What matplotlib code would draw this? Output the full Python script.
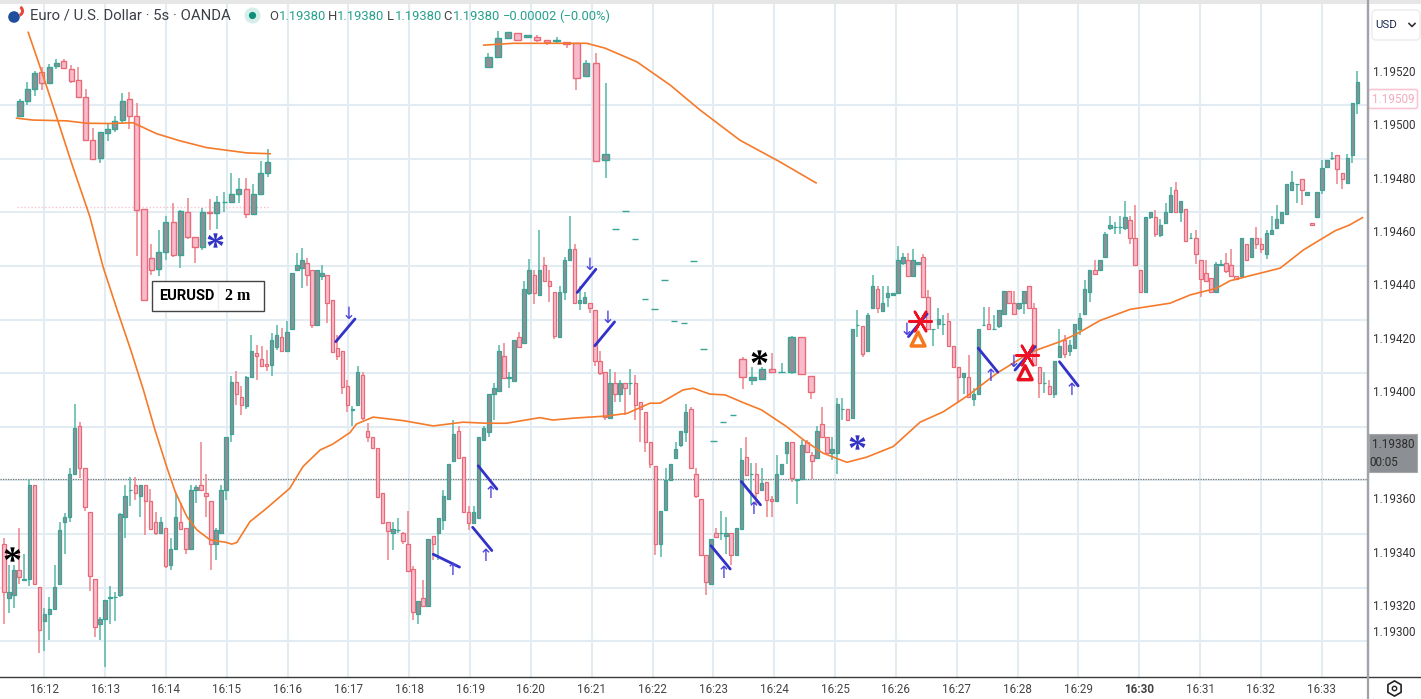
import matplotlib
matplotlib.use("Agg")
import matplotlib.pyplot as plt
from matplotlib.font_manager import FontProperties
from matplotlib.patches import Rectangle, FancyBboxPatch, Circle, Wedge
from matplotlib.path import Path
from matplotlib.textpath import TextPath

BASE = 1.19
PT = 1e-5

# main 5s series, points above 1.19000
main_open = [
    343.1,322.9,323.7,333.1,329.6,329.9,365,326.9,314,316.9,318.7,327.9,351,352.9,369,386.9,371.2,355,329.9,312.9,
    314.9,322.7,323,323.7,352.9,363,365,361,365,359.1,351,346.9,349,335,340.9,351,349,340.9,363.1,365,
    362.1,359.1,343.1,347.1,363.1,384,403.4,398.1,394.4,405.4,414.4,412.2,410.1,410,416.8,420.3,415.2,423.3,445.3,446.2,
    448.1,445.3,424.9,443.3,443.4,434.3,416.2,415.3,402.1,393,394.9,406.2,385.2,383,379,362.2,351.2,347,348,347,
    343,333.7,316.8,322.8,319.7,345.9,347,352,359.7,374,385.2,375.3,354.9,350.8,352.8,382,385,399,400,413.4,
    405.2,404,420.3,418,437,443.4,435.9,447.4,441.2,437.2,420.2,437.2,449.3,453.3,433,433,433,430.3,411.2,407.2,
    390.2,403,398.9,403,403,403,396.2,392.2,381.2,372,342.8,355.5,367,375.2,380,385,393.3,369,359.9,338.9,
    328,347,347,345.8,347,338.9,348.7,375.3,369,369,363,366.2,359.9,359,369,377,381.2,367,367.2,381.2,
    376.2,375.2,388,383,377,377,393.3,393.3,390.2,424.9,424.3,415.2,431.2,438.4,430.2,435.2,435.9,437,448,449.3,
    443.3,447.6,450.3,435.2,423.3,425.2,425.2,426.2,417,409.3,405.3,405.3,397.2,398.9,424.9,425.2,423.3,424.3,428.9,437.4,
    433,431.2,433,439.3,431.2,409.3,403.2,402,398.9,413,419.3,415.2,416.2,423.3,428.9,437.2,445.3,445.3,450.2,461.2,
    461.4,461.4,461.2,464.3,457.4,445.3,437.2,465.3,465.3,458.4,463,467,475.3,467,468.4,457.4,457.4,449.3,444.3,442.4,
    437.2,447.4,448,447.4,443.3,443.3,455.2,450.3,457.4,455.3,451.4,459,461.2,463,466.4,475.2,477.6,479.5,473.3,463,
    465.2,475.2,484,487.3,488.4,481.6,477.8,488.4,507.7,
]
main_high = [
    345,335,335,349.1,339.1,367.2,365,326.9,319,323.1,335,351.2,354.4,371.5,395.4,388.4,371.2,355,329.9,315.6,
    321.9,327.1,325,354.4,365,368.1,368.1,365,365,363.4,355,352.9,349,345,362.1,358.1,349,365,365,381.2,
    369.1,359.1,349,365,383.1,405.6,407.5,401.9,405.6,421.2,417.5,416.9,415.6,421.9,425,423.7,426.2,444.3,451.8,453.7,
    449.9,445.3,445.3,447.4,443.4,434.3,421.2,415.3,404.3,394.5,409.5,407.2,388.3,383,379,362.2,351.2,351.2,352.8,347.4,
    355.2,334.9,321.8,329.3,344.9,345.9,352.8,363.3,373,389.3,387,375.3,357,357,383,387,399,403.3,417.2,418,
    407.2,419.3,422.4,441.4,449.6,445.3,460.3,450.3,445.3,437.2,439.3,450.3,465.6,455.3,439.3,437.2,433,430.3,415.3,407.2,
    408.3,407.2,404.3,403,408.3,406.2,396.2,392.2,381.2,372,355.2,371.2,373,381.2,385.2,395.3,394.3,371.2,359.9,338.9,
    344.9,349,355.2,353,347,348.9,379,383,373.3,373.3,371.2,366.2,360.9,376.2,373,381.2,381.2,367.2,381.8,381.8,
    377.2,387,394.3,383,383,397.4,397.4,393.3,423.3,430.5,424.3,429.3,443.7,439.3,439.5,439.5,437,454.5,451.8,451.8,
    453.3,448.3,451.5,438,423.4,431.2,428.7,429.3,417,409.3,407,413.7,401.2,423.3,431.5,431.5,428.7,430.3,437.4,437.4,
    437.4,433,437.4,439.3,433,409.3,407.2,404.3,411.2,423.3,421.2,419.3,425.2,429.3,441.8,445.3,449.3,449.3,459.6,465.5,
    463.4,465.5,471.4,465.5,469.7,445.3,465.3,467,468,464.5,470.5,476.5,478.4,471.4,468.4,459.3,460.3,449.3,449.3,442.4,
    448.4,449.3,451.8,453.4,443.3,457.4,455.2,457.4,461.4,457.4,460.5,465.5,469.7,467.2,477.7,482.4,477.7,479.5,474.5,463,
    474.7,486.4,486.4,489.7,488.4,481.6,488.7,507.7,519.7,
]
main_low = [
    313.1,317.1,319,328.1,329.6,327.1,327.9,302.1,302.9,306.9,318.1,327.9,339.1,351.2,368.7,367.5,355.4,325.4,308.1,307.1,
    297.1,313.1,314.1,323.1,345,357.2,359.4,353.1,346.2,348.5,346.2,346.9,334.1,333.1,340.6,348.5,339.1,340.6,358.1,363.1,
    353.1,333.4,337.1,347.1,359.4,381.2,395,391.2,393.4,405.4,404.4,409.4,407.5,405.6,415.5,415.2,415.2,423,444.9,438.7,
    439.3,423.7,424.9,441.8,425.5,414.9,411.8,399,392.4,387,394.9,389.5,381.2,378.3,360.5,350.9,336.8,340.8,347,343,
    332.8,314.6,313,319.3,319.7,336.8,336.8,348,359.5,373.7,375.2,354.9,348.3,350.3,352.8,381.8,383,389.3,400,405.2,
    401.4,404,416.8,418,436.2,432.7,435.9,441.2,433.3,419.5,420.2,434.3,449.3,433,430.3,433,429.3,409.7,406.2,389.3,
    390.2,396.2,396.2,391.2,398.7,389.3,381.2,377.2,371.4,339,338,355.5,367,375,379.3,381.2,371.2,360.3,338.9,324,
    328,345.5,344.3,339.3,335,338.9,348.7,368.9,358,358,363,353,353,359,368.7,373,366.2,358,367.2,377.2,
    367.2,375.2,382.8,376.8,374.3,369.3,389.3,389.3,390.2,420.5,413,415.2,431.2,429.3,430.2,431.5,435.9,437,447.4,443.3,
    443.3,447.6,435.2,423.3,417,423.3,421.2,416.8,409.3,395.5,399,398,394.5,398.9,424.5,423.3,423,423.7,428.9,433,
    428.7,430.5,428.9,431.2,409.9,397.4,399.3,398.9,397.4,412.7,412.4,413.4,416.2,421.2,428.9,433.3,444.1,444.9,450.2,460.5,
    458.7,458.7,460.5,455.3,447.4,437.2,437.2,464.5,457.8,457.7,462.8,467,466.8,463.4,456.2,457.2,447.8,435.5,441.2,437.2,
    437.2,447.2,444.3,443.3,441.8,443.3,449.3,450.3,453.3,451.8,449.6,459,461.2,462.8,466.4,475.2,470.5,469.7,473.3,462.2,
    465.2,473.7,483.4,486.4,477.7,475.6,477.8,485.5,503.7,
]
main_close = [
    325,325,333.1,330.6,330,365,327.9,310.9,316.9,318.7,326.9,348.1,352.9,369.1,386.2,371.2,356.9,330.9,311.9,314.9,
    321.9,323,323,354.1,361,363.1,362.1,365,359.1,348.7,346.9,351,334.7,340.9,352.9,348.7,340.9,363.1,364.1,363.1,
    360.9,343.1,348.1,363.1,383.1,403.4,399,395,405.4,415,413.4,409.4,409.4,419.4,421.2,415.2,422.4,444.3,447.4,449.3,
    443.4,424.9,445.3,444.3,433.1,414.9,413.3,401.8,394.9,393.3,407.2,389.9,382.8,378.7,360.6,350.9,347.8,348.7,348.2,343.9,
    332.8,317.4,321.8,319.7,344.9,342.8,352.8,360.9,373,384,375.2,354.9,350.8,354.9,383,386.2,399,401.2,415.3,405.2,
    405.3,419.3,416.8,438.3,445.3,437,445.3,441.2,439.3,420.9,437.2,449.3,453.3,433,434.3,435.3,431.2,411.2,407,390.6,
    403,398.9,403,401.2,403.1,394.9,393.3,381.2,373,342.8,355.2,367,373,378.3,385.2,392.2,371.2,360.8,338.9,328.9,
    344.9,345.5,347.1,347,338.9,348.9,374.3,368.9,369.1,362,365.9,359.3,359,369,373,381.2,367.7,367.2,379.9,377.2,
    374,385.2,382.8,377,378.3,395.2,393.4,389.3,423.3,425,413.9,428.4,439.5,431.2,433,437,437,449.3,450.3,443.3,
    449.3,448.3,435.2,423.3,423.4,427.2,425.3,417,409.3,405.3,407,398,398.9,423.3,425,423.3,423.4,430.3,437.4,433,
    428.9,433,437.4,431.2,409.9,403,403.3,398.9,411.2,417,414,417.2,425.2,427.4,438.3,445.3,444.1,449.3,458.7,462.4,
    461.5,461.5,465.3,457.4,447.4,437.2,465.3,467,459,462.4,467,473.4,467,471.4,456.2,457.5,451.4,442.2,441.2,437.2,
    447.8,447.5,444.9,443.3,442,457.4,449.3,457.4,455.2,453.3,459.3,460.3,464.5,467.2,477.7,478.4,477.7,475.3,474.5,462.2,
    474.7,483.4,486.4,487.4,483.3,479.3,487.4,507.7,515.6,
]

# overlay series, upper left
left_open = [503,508.7,513,519.3,515.5,521.8,523.4,520.5,516.4,510,493.9,487.4,496.8,498.3,501.4,509.3,503,468.3,450,445.9,
             452.2,463.4,450.9,467.2,457.7,453.9,467.2,466.8,470.9,470.9,473.9,475.8,466.2,473.9,481.8]
left_high = [509.3,515.8,519.7,521.2,522.4,524.5,524.3,522.2,521.2,513,498.7,497,499.9,503,511.5,512,508,468.3,455.3,460.2,
             465.5,470.3,468,472.4,457.7,468.7,471.8,473,474.5,481.8,479.7,479.9,477.4,486,490.5]
left_low = [502.8,507,510.5,512.8,515.5,520.5,520.8,515.5,510,494,487,485.5,493.7,497,500,498.3,450.5,433.7,443.7,443.3,
            449.3,450.3,446.2,457,448,452.8,460.2,460.8,467,470.9,470.5,464.7,465.9,473.9,480.2]
left_close = [508.5,513,519,515.5,521.5,523,520.8,516.2,510,494,487,497,498.3,501,508.8,503,468,434.3,445.3,452.2,
              463.4,450.9,467.4,457.7,453.9,467.2,466.8,470.8,471,473.9,475.8,466.4,473.9,481.8,485.9]

# overlay series, upper middle (flat dashes between the two candle groups)
mid_open = [521.2,525,532,533.9,532.4,532.7,531.5,531,530.8,530.2,518,523,486.4,
            460.8,467.5,456.9,434.7,430.9,441.7,426.5,425.5,448.7,416,381.4,388.6,391.2,
            412,404.3,404.8,408.3,407.2,407.2,420.3,405.9]
mid_high = [526.4,534.7,534.5,533.9,533.3,533.4,531.5,532.4,530.8,530.2,524,526.4,515.5,
            460.8,467.5,456.9,434.7,430.9,441.7,426.5,425.5,448.7,416,381.4,388.6,391.2,
            412.8,409,409.3,414.3,410.5,420.9,420.3,405.9]
mid_low = [521.2,525,532,531.6,532.4,530.8,529.6,530.5,528.4,512.7,518,486.2,480,
           460.8,467.5,456.9,434.7,430.9,441.7,426.5,425.5,448.7,416,381.4,388.6,391.2,
           400.8,402.4,404.8,406.8,407,406.4,406.4,397]
mid_close = [525,532,534.5,531.6,533.3,531.6,530.8,531.3,530,517.4,522.7,486.2,488.7,
             460.8,467.5,456.9,434.7,430.9,441.7,426.5,425.5,448.7,416,381.4,388.6,391.2,
             405.3,405.3,408.3,407.4,407.3,420.3,406.4,399.9]

ema_bar = [4.8,7.8,10.4,13.4,17,19.6,22.3,25.1,27.6,29.9,32.2,33.9,36.2,38.2,40.8,44.1,45.1,46.1,48.7,52,
           54.7,56.6,59.2,62.6,65.1,68.5,69.8,73.1,79,85,90.9,95.6,99.5,106.1,108.7,112.7,119.3,123.4,127.9,129.9,
           134.5,136.5,139.8,142.8,146.4,150,155,158.3,162.2,166.9,170.8,176.1,181.4,186,190.6,196.6,202.5,204.5,209.1,212.4,
           217,223,230.9,234.9,240.1,242.8,247.4,252.7,257.3,260.6,263.6,266.5,269]
ema_val = [534.3,517.7,502.8,485.3,465.4,446.7,431.1,415.5,400.6,385.6,371.9,362.5,353.2,348.2,344.5,343.5,342.9,343.5,351.3,356.3,
           360.7,363.8,371.9,378.1,380.3,384.6,387.8,390.4,389.1,387.1,388.5,388.1,388.1,390.2,389.3,390,390.8,391.8,395.6,395.6,
           400.6,401.2,399,398.7,395.8,393.1,386.8,381.9,376.9,373.5,375.4,379.4,388.5,392.4,398.1,406.8,413.7,415.5,418.6,421.5,
           426.5,430.7,433,436.1,438.6,441.4,443.6,446.1,452.9,456.7,460.1,462.3,465]
ema_left_bar = [2.5,5.7,12.4,16.4,21,25.5,26.9,30.2,34.9,40.1,44.1,48.1,52.7]
ema_left_val = [502.2,501.5,501.2,500.3,500.2,500.5,499.3,496.4,493.7,491.2,490.2,489.2,488.9]
ema_mid_bar = [95,100.8,115.4,119,125.3,131.9,137.8,145.7,153.7,160.8]
ema_mid_val = [529.5,530.2,530.2,528.4,523.3,514.6,505.3,494,485.8,478]

# drawn trend strokes: bar0, val0, bar1, val1
strokes = [(65.7,418.6,69.5,427.1),(85,339.1,90.2,334.3),(92.8,349.2,96.6,340.5),(93.9,372.2,97.6,363.5),
           (113.5,437,117.2,445.7),(117,417.1,120.9,426),(140,342.3,143.8,333.6),(146,366.3,149.8,357.6),
           (179.1,420.5,182.8,429),(192.9,416.2,196.8,407.2),(200.2,408,204.2,416.8),(209,411.1,212.7,402.1)]
up_arrows = [(88.9,333.2),(95.3,338.6),(96.4,361.9),(142.4,332),(148.5,355.9),(195.4,405.9),(211.4,400.6)]
down_arrows = [(68.2,429),(116,447.3),(119.5,427.6),(178.8,423),(199.9,411.1)]
black_stars = [(1.5,339.1),(149.6,413)]
blue_stars = [(41.8,456.7),(168.9,381.2)]
red_stars = [(181.4,426.5),(202.6,413.7)]

grid_vals = [507.1,487.05,467,446.95,426.9,406.85,386.8,366.75,346.7,326.65,306.6]
last_line = 367.3
pink_line = 468.9
time_labels = ["16:%02d" % m for m in range(12, 34)]
price_labels = ["1.19520","1.19500","1.19480","1.19460","1.19440","1.19420","1.19400","1.19360","1.19340","1.19320","1.19300"]
price_ticks = [520,500,480,460,440,420,400,360,340,320,310.4]

UI_FONT = ["Roboto", "DejaVu Sans"]
plt.rcParams["font.family"] = UI_FONT

TEAL = "#38a596"
TEAL_W = "#62bbad"
GRAY = "#8f9096"
RED = "#e86a76"
RED_W = "#ee8c93"
PINK = "#f8bbcd"
GRID = "#e2ecf2"
BLUE = "#3232c8"
ARROW = "#4d44dc"
ORANGE = "#f57a2a"


def to_price(v):
    return BASE + v * PT if not hasattr(v, "__len__") else [BASE + x * PT for x in v]


def candles(ax, start, step, o, h, l, c, width, lw=1.0):
    for i in range(len(o)):
        x = start + i * step
        up = c[i] >= o[i]
        ax.vlines(x, to_price(l[i]), to_price(h[i]), color=TEAL_W if up else RED_W, lw=1.2, zorder=3)
        lo = min(o[i], c[i])
        ax.bar(x, (abs(c[i] - o[i])) * PT, width, bottom=to_price(lo),
               color=GRAY if up else PINK, edgecolor=TEAL if up else RED, linewidth=lw, zorder=4)


# serif asterisk with teardrop arms, centred so it can be used as a marker
_glyph = TextPath((0, 0), "*", size=10, prop=FontProperties(family="Liberation Serif", weight="bold"))
_box = _glyph.get_extents()
_mid = [(_box.x0 + _box.x1) / 2, (_box.y0 + _box.y1) / 2]
_verts = _glyph.vertices.copy()
_verts[_glyph.codes == Path.CLOSEPOLY] = _mid
star_marker = Path(_verts - _mid, _glyph.codes)

fig = plt.figure(figsize=(14.21, 6.99), dpi=100, facecolor="white")
ax = fig.add_axes([0, 1 - 677 / 699, 1368 / 1421, 673 / 699])
ax.set_xlim(-4 / 5.05, (1368 - 4) / 5.05)
ax.set_ylim(to_price(293.2), to_price(544.9))

for v in grid_vals:
    ax.axhline(to_price(v), color=GRID, lw=1.5, zorder=1)
xt = [7.98 + m * 12.045 for m in range(len(time_labels))]
for x in xt:
    ax.axvline(x, color=GRID, lw=1.5, zorder=1)
ax.axhline(to_price(last_line), color="#777777", lw=0.9, ls=(0, (1, 1)), zorder=2)
ax.plot([2.6, 52.7], to_price([pink_line, pink_line]), color="#f7c4cf", lw=1, ls=(0, (1, 1.5)), zorder=2)

candles(ax, 0, 1, main_open, main_high, main_low, main_close, 0.68, lw=0.9)
candles(ax, 3.17, 1.444, left_open, left_high, left_low, left_close, 1.0)
candles(ax, 95.9, 1.937, mid_open, mid_high, mid_low, mid_close, 1.3)

for bx, val in [(ema_bar, ema_val), (ema_left_bar, ema_left_val), (ema_mid_bar, ema_mid_val)]:
    ax.plot(bx, to_price(val), color=ORANGE, lw=1.2, zorder=5)

for x0, v0, x1, v1 in strokes:
    ax.plot([x0, x1], to_price([v0, v1]), color=BLUE, lw=2.0, solid_capstyle="round", zorder=6)
for x, v in up_arrows:
    ax.text(x, to_price(v), "\u2191", color=ARROW, fontsize=12, ha="center", va="center", family="DejaVu Sans", zorder=7)
for x, v in down_arrows:
    ax.text(x, to_price(v), "\u2193", color=ARROW, fontsize=12, ha="center", va="center", family="DejaVu Sans", zorder=7)

for pts, col in [(black_stars, "black"), (blue_stars, "#3434c4")]:
    ax.scatter([p[0] for p in pts], to_price([p[1] for p in pts]), marker=star_marker, s=130, color=col, linewidths=0, zorder=8)
ax.scatter([p[0] for p in red_stars], to_price([p[1] for p in red_stars]), marker=(6, 2, 90), s=260,
           color="#f01024", linewidths=1.8, zorder=8)
ax.scatter([181], to_price([419.6]), marker="^", s=100, facecolor="none", edgecolor="#f5781e", linewidths=2.5, zorder=8)
ax.scatter([202.2], to_price([407]), marker="^", s=100, facecolor="none", edgecolor="#e8101e", linewidths=2.5, zorder=8)

ax.set_xticks(xt)
ax.set_xticklabels(time_labels, fontsize=8.4, color="#444444")
ax.get_xticklabels()[18].set_fontweight("bold")
ax.tick_params(axis="x", length=0, pad=4)
ax.yaxis.tick_right()
ax.set_yticks(to_price(price_ticks))
ax.set_yticklabels(price_labels, fontsize=8.4, color="#333333")
ax.tick_params(axis="y", length=0, pad=3.5)
for s in ["top", "left", "bottom"]:
    ax.spines[s].set_visible(False)
ax.spines["right"].set_color("#a0a3a8")
ax.spines["right"].set_linewidth(1.6)

# screen furniture, drawn in image pixels on a transparent layer
ui = fig.add_axes([0, 0, 1, 1], facecolor="none")
ui.set_xlim(0, 1421)
ui.set_ylim(699, 0)
ui.axis("off")
ui.add_patch(Rectangle((0, 0), 1421, 4, color="#e6e6e6", lw=0))
ui.plot([0, 1421], [677, 677], color="#3a3a3a", lw=1)
ui.plot([1368, 1368], [0, 699], color="#a0a3a8", lw=1.6)

ui.add_patch(Circle((14, 17), 5.8, color="#1f4e9c", lw=0))
ui.add_patch(Wedge((18, 11), 6, 300, 70, color="#e8453c", lw=0))
ui.add_patch(Wedge((18, 11), 3, 270, 80, color="white", lw=0))
ui.text(30, 16, "Euro / U.S. Dollar \u00b7 5s \u00b7 OANDA", fontsize=10.7, color="#3b3f46", va="center")
ui.add_patch(Circle((252.5, 15.5), 8, color="#d6eeea", lw=0))
ui.add_patch(Circle((252.5, 15.5), 3.6, color="#0b8f78", lw=0))
for lx, vx, ch in [(269, 279, "O"), (328, 337, "H"), (387, 395, "L"), (443, 453, "C")]:
    ui.text(lx, 16, ch, fontsize=9.4, color="#444444", va="center")
    ui.text(vx, 16, "1.19380", fontsize=9.4, color="#26a08c", va="center")
ui.text(503, 16, "\u22120.00002", fontsize=9.4, color="#26a08c", va="center")
ui.text(559, 16, "(\u22120.00%)", fontsize=9.4, color="#26a08c", va="center")

ui.add_patch(Rectangle((151.7, 281), 112.6, 29.7, facecolor="white", edgecolor="#444444", lw=1, zorder=9))
ui.plot([218, 218], [283, 309], color="#eeeeee", lw=1, zorder=10)
ui.text(187, 296, "EURUSD", fontsize=10.5, fontweight="bold", color="black", ha="center", va="center", zorder=10)
ui.text(238, 296, "2 m", fontsize=11.5, fontweight="bold", family="Liberation Serif", color="black", ha="center", va="center", zorder=10)

ui.add_patch(FancyBboxPatch((1374, 12), 44, 26, boxstyle="round,pad=2,rounding_size=4", facecolor="white", edgecolor="#ececec", lw=1))
ui.text(1386, 25.5, "USD", fontsize=8.2, color="#1c2a50", ha="center", va="center")
ui.plot([1409, 1412, 1415], [23.5, 26.5, 23.5], color="#333333", lw=1.2)
ui.add_patch(FancyBboxPatch((1370, 91), 46, 16, boxstyle="round,pad=1.5,rounding_size=2", facecolor="white", edgecolor="#f8c6d4", lw=1.2))
ui.text(1393, 99.5, "1.19509", fontsize=8.4, color="#f4a9bf", ha="center", va="center")
ui.add_patch(Rectangle((1369, 434), 48, 38, facecolor="#8c8f93", edgecolor="#a5a7aa", lw=0.8))
ui.text(1393, 444, "1.19380", fontsize=8.4, color="#2b2b2b", ha="center", va="center")
ui.text(1384, 462, "00:05", fontsize=8.4, color="#2b2b2b", ha="center", va="center")
ui.scatter([1394], [688], marker="h", s=120, facecolor="white", edgecolor="#222222", linewidths=1.2)
ui.scatter([1394], [688], marker="o", s=10, facecolor="white", edgecolor="#222222", linewidths=1)

fig.savefig("out.png", dpi=100)
